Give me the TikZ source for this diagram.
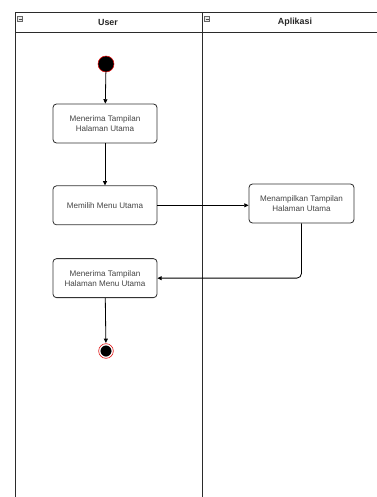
\documentclass[tikz,border=0pt]{standalone}
\usepackage{fontspec}
\setmainfont{Liberation Sans}
\usetikzlibrary{arrows.meta,positioning,calc}
\definecolor{lanegray}{HTML}{2B2B2B}
\definecolor{txtgray}{HTML}{444444}
\definecolor{ringred}{HTML}{E01010}
\tikzset{
  act style/.style={rectangle, rounded corners=3pt, draw=black!80, line width=0.7pt,
    minimum width=3.12cm, minimum height=1.17cm, align=center, text=txtgray,
    font=\fontsize{6.9}{8.6}\selectfont},
  arr style/.style={-{Triangle[length=1.3mm,width=1.2mm]}, line width=0.7pt, black},
  start style/.style={circle, fill=black, draw=ringred, line width=0.5pt, minimum size=0.48cm, inner sep=0pt},
  end style/.style={circle, fill=black, draw=white, line width=1.2pt, minimum size=0.44cm, inner sep=0pt,
    double=ringred, double distance=0.5pt},
  lane style/.style={line width=0.8pt, lanegray},
  head style/.style={font=\fontsize{7.6}{9}\selectfont\bfseries, text=black!85}
}

\begin{document}
\begin{tikzpicture}[x=0.03cm, y=-0.03cm]
\useasboundingbox (0,0) rectangle (377,497);

% swimlanes
\draw[lane style] (15,497) -- (15,12) -- (377,12);
\draw[lane style] (15,32) -- (377,32);
\draw[lane style] (202,12) -- (202,497);
\node[head style] (hUser) at (108,22) {User};
\node[head style] (hApp) at (295,22) {Aplikasi};
\foreach \ix in {20,207}{
  \draw[black!60, line width=0.4pt, fill=black!8] (\ix-2.5,16.5) rectangle (\ix+2.5,21.5);
  \draw[black!70, line width=0.4pt] (\ix-1.5,19) -- (\ix+1.5,19);
}

% activities
\node[start style] (mulai) at (106,64) {};
\node[act style] (terima1) at (105,123.5) {Menerima Tampilan\\Halaman Utama};
\node[act style, below=1.26cm of terima1] (pilih) {Memilih Menu Utama};
\node[act style, minimum width=3.15cm] (tampil) at (301.5,203.5) {Menampilkan Tampilan\\Halaman Utama};
\node[act style, below=0.99cm of pilih] (terima2) {Menerima Tampilan\\Halaman Menu Utama};
\node[end style] (selesai) at (106,351) {};

\draw[arr style] (mulai)--(terima1);
\draw[arr style] (terima1)--(pilih);
\draw[arr style] (pilih.east)--(pilih.east -| tampil.west);
\draw[arr style, rounded corners=4pt] (tampil.south) |- (terima2.east);
\draw[arr style] (terima2)--(selesai);

\end{tikzpicture}
\end{document}
